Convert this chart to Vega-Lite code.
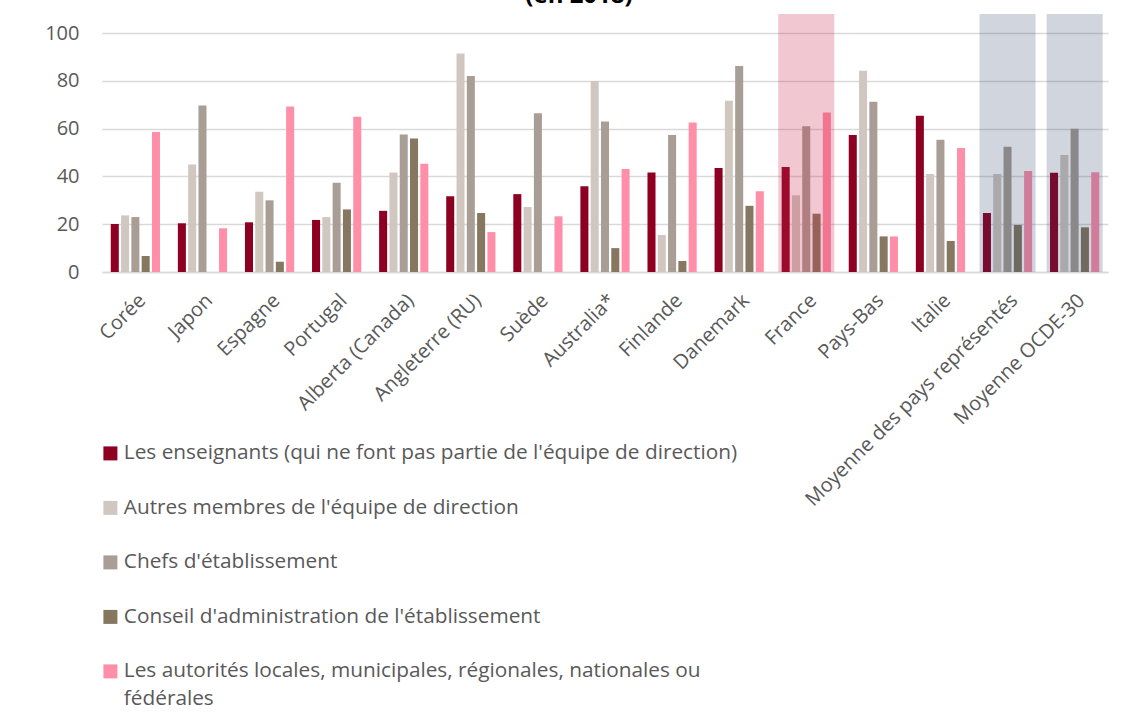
{
  "$schema": "https://vega.github.io/schema/vega-lite/v6.json",
  "autosize": {"type": "none"},
  "width": 1006,
  "height": 258,
  "padding": {"left": 102, "top": 14, "right": 24, "bottom": 445},
  "background": "#ffffff",
  "title": {
    "text": "(en 2018)",
    "font": "Open Sans",
    "fontSize": 24,
    "fontWeight": "bold",
    "color": "#000000",
    "anchor": "middle",
    "baseline": "alphabetic",
    "offset": 1,
    "dy": 14,
    "dx": -26
  },
  "config": {
    "view": {"stroke": null},
    "font": "Open Sans",
    "legend": {
      "orient": "none",
      "legendX": -2,
      "legendY": 429,
      "direction": "vertical",
      "symbolType": "square",
      "symbolSize": 196,
      "symbolStrokeWidth": 0,
      "labelFontSize": 20.8,
      "labelFont": "Open Sans",
      "labelColor": "#595959",
      "rowPadding": 32.5,
      "labelOffset": 3,
      "labelLimit": 0,
      "padding": 0
    }
  },
  "datasets": {
    "bars": [
      {"pays": "Corée", "serie": "Les enseignants (qui ne font pas partie de l'équipe de direction)", "valeur": 20.1},
      {"pays": "Corée", "serie": "Autres membres de l'équipe de direction", "valeur": 23.7},
      {"pays": "Corée", "serie": "Chefs d'établissement", "valeur": 23.0},
      {"pays": "Corée", "serie": "Conseil d'administration de l'établissement", "valeur": 6.7},
      {"pays": "Corée", "serie": "Les autorités locales, municipales, régionales, nationales ou fédérales", "valeur": 58.6},
      {"pays": "Japon", "serie": "Les enseignants (qui ne font pas partie de l'équipe de direction)", "valeur": 20.4},
      {"pays": "Japon", "serie": "Autres membres de l'équipe de direction", "valeur": 45.0},
      {"pays": "Japon", "serie": "Chefs d'établissement", "valeur": 69.7},
      {"pays": "Japon", "serie": "Les autorités locales, municipales, régionales, nationales ou fédérales", "valeur": 18.3},
      {"pays": "Espagne", "serie": "Les enseignants (qui ne font pas partie de l'équipe de direction)", "valeur": 20.8},
      {"pays": "Espagne", "serie": "Autres membres de l'équipe de direction", "valeur": 33.6},
      {"pays": "Espagne", "serie": "Chefs d'établissement", "valeur": 30.0},
      {"pays": "Espagne", "serie": "Conseil d'administration de l'établissement", "valeur": 4.3},
      {"pays": "Espagne", "serie": "Les autorités locales, municipales, régionales, nationales ou fédérales", "valeur": 69.3},
      {"pays": "Portugal", "serie": "Les enseignants (qui ne font pas partie de l'équipe de direction)", "valeur": 21.8},
      {"pays": "Portugal", "serie": "Autres membres de l'équipe de direction", "valeur": 23.0},
      {"pays": "Portugal", "serie": "Chefs d'établissement", "valeur": 37.4},
      {"pays": "Portugal", "serie": "Conseil d'administration de l'établissement", "valeur": 26.2},
      {"pays": "Portugal", "serie": "Les autorités locales, municipales, régionales, nationales ou fédérales", "valeur": 65.0},
      {"pays": "Alberta (Canada)", "serie": "Les enseignants (qui ne font pas partie de l'équipe de direction)", "valeur": 25.6},
      {"pays": "Alberta (Canada)", "serie": "Autres membres de l'équipe de direction", "valeur": 41.7},
      {"pays": "Alberta (Canada)", "serie": "Chefs d'établissement", "valeur": 57.6},
      {"pays": "Alberta (Canada)", "serie": "Conseil d'administration de l'établissement", "valeur": 55.9},
      {"pays": "Alberta (Canada)", "serie": "Les autorités locales, municipales, régionales, nationales ou fédérales", "valeur": 45.3},
      {"pays": "Angleterre  (RU)", "serie": "Les enseignants (qui ne font pas partie de l'équipe de direction)", "valeur": 31.7},
      {"pays": "Angleterre  (RU)", "serie": "Autres membres de l'équipe de direction", "valeur": 91.5},
      {"pays": "Angleterre  (RU)", "serie": "Chefs d'établissement", "valeur": 82.0},
      {"pays": "Angleterre  (RU)", "serie": "Conseil d'administration de l'établissement", "valeur": 24.7},
      {"pays": "Angleterre  (RU)", "serie": "Les autorités locales, municipales, régionales, nationales ou fédérales", "valeur": 16.7},
      {"pays": "Suède", "serie": "Les enseignants (qui ne font pas partie de l'équipe de direction)", "valeur": 32.6},
      {"pays": "Suède", "serie": "Autres membres de l'équipe de direction", "valeur": 27.2},
      {"pays": "Suède", "serie": "Chefs d'établissement", "valeur": 66.5},
      {"pays": "Suède", "serie": "Les autorités locales, municipales, régionales, nationales ou fédérales", "valeur": 23.3},
      {"pays": "Australia*", "serie": "Les enseignants (qui ne font pas partie de l'équipe de direction)", "valeur": 35.9},
      {"pays": "Australia*", "serie": "Autres membres de l'équipe de direction", "valeur": 80.0},
      {"pays": "Australia*", "serie": "Chefs d'établissement", "valeur": 63.0},
      {"pays": "Australia*", "serie": "Conseil d'administration de l'établissement", "valeur": 10.0},
      {"pays": "Australia*", "serie": "Les autorités locales, municipales, régionales, nationales ou fédérales", "valeur": 43.1},
      {"pays": "Finlande", "serie": "Les enseignants (qui ne font pas partie de l'équipe de direction)", "valeur": 41.7},
      {"pays": "Finlande", "serie": "Autres membres de l'équipe de direction", "valeur": 15.5},
      {"pays": "Finlande", "serie": "Chefs d'établissement", "valeur": 57.3},
      {"pays": "Finlande", "serie": "Conseil d'administration de l'établissement", "valeur": 4.6},
      {"pays": "Finlande", "serie": "Les autorités locales, municipales, régionales, nationales ou fédérales", "valeur": 62.6},
      {"pays": "Danemark", "serie": "Les enseignants (qui ne font pas partie de l'équipe de direction)", "valeur": 43.5},
      {"pays": "Danemark", "serie": "Autres membres de l'équipe de direction", "valeur": 71.7},
      {"pays": "Danemark", "serie": "Chefs d'établissement", "valeur": 86.2},
      {"pays": "Danemark", "serie": "Conseil d'administration de l'établissement", "valeur": 27.7},
      {"pays": "Danemark", "serie": "Les autorités locales, municipales, régionales, nationales ou fédérales", "valeur": 33.8},
      {"pays": "France", "serie": "Les enseignants (qui ne font pas partie de l'équipe de direction)", "valeur": 44.0},
      {"pays": "France", "serie": "Autres membres de l'équipe de direction", "valeur": 32.1},
      {"pays": "France", "serie": "Chefs d'établissement", "valeur": 61.0},
      {"pays": "France", "serie": "Conseil d'administration de l'établissement", "valeur": 24.4},
      {"pays": "France", "serie": "Les autorités locales, municipales, régionales, nationales ou fédérales", "valeur": 66.8},
      {"pays": "Pays-Bas", "serie": "Les enseignants (qui ne font pas partie de l'équipe de direction)", "valeur": 57.3},
      {"pays": "Pays-Bas", "serie": "Autres membres de l'équipe de direction", "valeur": 84.2},
      {"pays": "Pays-Bas", "serie": "Chefs d'établissement", "valeur": 71.3},
      {"pays": "Pays-Bas", "serie": "Conseil d'administration de l'établissement", "valeur": 14.9},
      {"pays": "Pays-Bas", "serie": "Les autorités locales, municipales, régionales, nationales ou fédérales", "valeur": 14.9},
      {"pays": "Italie", "serie": "Les enseignants (qui ne font pas partie de l'équipe de direction)", "valeur": 65.4},
      {"pays": "Italie", "serie": "Autres membres de l'équipe de direction", "valeur": 41.0},
      {"pays": "Italie", "serie": "Chefs d'établissement", "valeur": 55.4},
      {"pays": "Italie", "serie": "Conseil d'administration de l'établissement", "valeur": 13.0},
      {"pays": "Italie", "serie": "Les autorités locales, municipales, régionales, nationales ou fédérales", "valeur": 51.9},
      {"pays": "Moyenne des pays représentés", "serie": "Les enseignants (qui ne font pas partie de l'équipe de direction)", "valeur": 24.7},
      {"pays": "Moyenne des pays représentés", "serie": "Autres membres de l'équipe de direction", "valeur": 41.0},
      {"pays": "Moyenne des pays représentés", "serie": "Chefs d'établissement", "valeur": 52.4},
      {"pays": "Moyenne des pays représentés", "serie": "Conseil d'administration de l'établissement", "valeur": 19.7},
      {"pays": "Moyenne des pays représentés", "serie": "Les autorités locales, municipales, régionales, nationales ou fédérales", "valeur": 42.3},
      {"pays": "Moyenne OCDE-30", "serie": "Les enseignants (qui ne font pas partie de l'équipe de direction)", "valeur": 41.5},
      {"pays": "Moyenne OCDE-30", "serie": "Autres membres de l'équipe de direction", "valeur": 49.0},
      {"pays": "Moyenne OCDE-30", "serie": "Chefs d'établissement", "valeur": 60.0},
      {"pays": "Moyenne OCDE-30", "serie": "Conseil d'administration de l'établissement", "valeur": 18.7},
      {"pays": "Moyenne OCDE-30", "serie": "Les autorités locales, municipales, régionales, nationales ou fédérales", "valeur": 41.8}
    ],
    "highlight": [
      {"pays": "France", "type": "pays", "haut": 108},
      {"pays": "Moyenne des pays représentés", "type": "moyenne", "haut": 108},
      {"pays": "Moyenne OCDE-30", "type": "moyenne", "haut": 108}
    ]
  },
  "layer": [
    {
      "data": {"name": "bars"},
      "mark": {"type": "bar"},
      "encoding": {
        "x": {
          "field": "pays",
          "type": "nominal",
          "scale": {
            "domain": ["Corée", "Japon", "Espagne", "Portugal", "Alberta (Canada)", "Angleterre  (RU)", "Suède", "Australia*", "Finlande", "Danemark", "France", "Pays-Bas", "Italie", "Moyenne des pays représentés", "Moyenne OCDE-30"],
            "paddingInner": 0.165,
            "paddingOuter": 0.08
          },
          "axis": {
            "title": null,
            "labelAngle": -45,
            "labelFontSize": 20,
            "labelFont": "Open Sans",
            "labelColor": "#595959",
            "labelPadding": 18,
            "ticks": false,
            "domain": true,
            "domainColor": "#D9D9D9",
            "domainWidth": 1.5,
            "grid": false,
            "labelLimit": 0
          }
        },
        "xOffset": {
          "field": "serie",
          "type": "nominal",
          "scale": {
            "domain": ["Les enseignants (qui ne font pas partie de l'équipe de direction)", "Autres membres de l'équipe de direction", "Chefs d'établissement", "Conseil d'administration de l'établissement", "Les autorités locales, municipales, régionales, nationales ou fédérales"],
            "paddingInner": 0.22,
            "paddingOuter": 0.33
          }
        },
        "y": {
          "field": "valeur",
          "type": "quantitative",
          "scale": {"domain": [0, 108], "nice": false},
          "axis": {
            "title": null,
            "values": [0, 20, 40, 60, 80, 100],
            "labelFontSize": 20,
            "labelFont": "Open Sans",
            "labelColor": "#595959",
            "labelPadding": 23,
            "ticks": false,
            "domain": false,
            "gridColor": "#D9D9D9",
            "gridWidth": 1.5
          }
        },
        "color": {
          "field": "serie",
          "type": "nominal",
          "scale": {
            "domain": ["Les enseignants (qui ne font pas partie de l'équipe de direction)", "Autres membres de l'équipe de direction", "Chefs d'établissement", "Conseil d'administration de l'établissement", "Les autorités locales, municipales, régionales, nationales ou fédérales"],
            "range": ["#8E0021", "#D0C8C0", "#A89E95", "#857760", "#FF8FA9"]
          },
          "legend": {
            "title": null,
            "labelExpr": "datum.label == 'Les autorités locales, municipales, régionales, nationales ou fédérales' ? ['Les autorités locales, municipales, régionales, nationales ou', 'fédérales'] : datum.label",
            "encode": {"labels": {"update": {"lineHeight": {"value": 28}}}}
          }
        }
      }
    },
    {
      "data": {"name": "highlight"},
      "mark": {"type": "bar"},
      "encoding": {
        "x": {"field": "pays", "type": "nominal"},
        "y": {"field": "haut", "type": "quantitative"},
        "fill": {
          "condition": {"test": "datum.type == 'pays'", "value": "#C8284F"},
          "value": "#203864"
        },
        "opacity": {
          "condition": {"test": "datum.type == 'pays'", "value": 0.26},
          "value": 0.21
        }
      }
    }
  ]
}
